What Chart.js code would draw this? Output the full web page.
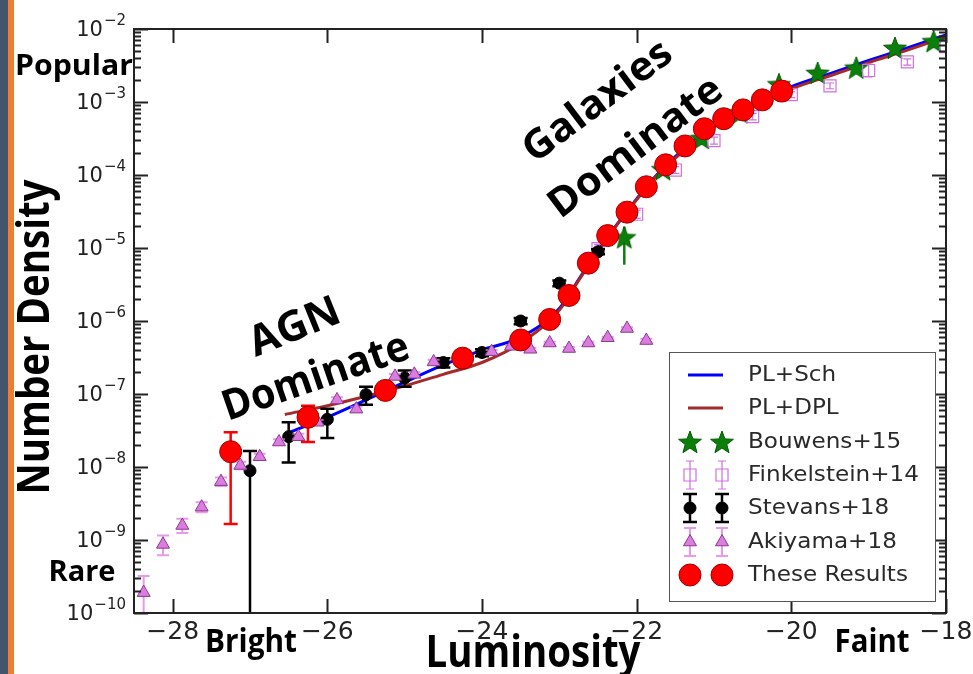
<!DOCTYPE html>
<html>
<head>
<meta charset="utf-8">
<script src="https://cdn.jsdelivr.net/npm/chart.js@4.4.1/dist/chart.umd.min.js"></script>
<style>
  html, body { margin: 0; padding: 0; background: #fff; }
  #wrap { position: relative; width: 973px; height: 674px; overflow: hidden; background: #fff; }
  #stripe1 { position: absolute; left: 0; top: 0; width: 8px; height: 674px; background: #44546a; }
  #stripe2 { position: absolute; left: 8px; top: 0; width: 6px; height: 674px; background: #ed7d31; }
  canvas { position: absolute; left: 0; top: 0; }
</style>
</head>
<body>
<div id="wrap">
  <div id="stripe1"></div><div id="stripe2"></div>
  <canvas id="lf" width="973" height="674"></canvas>
</div>
<script>
var ctx = document.getElementById('lf').getContext('2d');

// axis ticks
var xTicks = [-28, -26, -24, -22, -20, -18];
var yTickValues = [1e-10, 1e-9, 1e-8, 1e-7, 1e-6, 1e-5, 1e-4, 1e-3, 1e-2];
var yTickPowers = ['\u221210', '\u22129', '\u22128', '\u22127', '\u22126', '\u22125', '\u22124', '\u22123', '\u22122'];

// model curves
var schM = [-26.5, -26, -25.5, -25, -24.5, -24, -23.5, -23, -22.75, -22.5, -22.25, -22, -21.75, -21.5, -21, -20.5, -20, -19.5, -19, -18.5, -18];
var schPhi = [2.95e-8, 4.8e-8, 8.3e-8, 1.45e-7, 2.5e-7, 4.0e-7, 6.0e-7, 1.48e-6, 3.7e-6, 9.3e-6, 2.14e-5, 4.7e-5, 9.8e-5, 1.78e-4, 4.8e-4, 9.3e-4, 1.62e-3, 2.45e-3, 3.7e-3, 5.5e-3, 8.3e-3];
var dplM = [-26.55, -26, -25.5, -25, -24.5, -24, -23.5, -23, -22.75, -22.5, -22.25, -22, -21.75, -21.5, -21, -20.5, -20, -19.5, -19, -18.5, -18];
var dplPhi = [5.25e-8, 6.9e-8, 9.3e-8, 1.29e-7, 1.86e-7, 2.7e-7, 5.0e-7, 1.41e-6, 3.6e-6, 8.9e-6, 2.1e-5, 4.6e-5, 9.5e-5, 1.7e-4, 4.57e-4, 8.7e-4, 1.51e-3, 2.29e-3, 3.47e-3, 5.13e-3, 7.76e-3];

// Bouwens+15
var bouwensM = [-22.16, -21.66, -21.16, -20.66, -20.16, -19.66, -19.16, -18.66, -18.16];
var bouwensPhi = [1.4e-5, 1.2e-4, 3.2e-4, 7.2e-4, 1.75e-3, 2.5e-3, 2.95e-3, 5.5e-3, 6.8e-3];
var bouwensLo = [5.9e-6, 1.1e-4, 2.9e-4, 6.6e-4, 1.6e-3, 2.3e-3, 2.7e-3, 5.0e-3, 6.2e-3];
var bouwensHi = [1.95e-5, 1.3e-4, 3.5e-4, 7.8e-4, 1.9e-3, 2.7e-3, 3.2e-3, 6.0e-3, 7.4e-3];

// Finkelstein+14
var finkM = [-22.5, -22, -21.5, -21, -20.5, -20, -19.5, -19, -18.5, -18];
var finkPhi = [9.8e-6, 2.9e-5, 1.17e-4, 2.95e-4, 6.3e-4, 1.26e-3, 1.66e-3, 2.7e-3, 3.55e-3, 5.75e-3];
var finkLo = [8.5e-6, 2.55e-5, 1.05e-4, 2.65e-4, 5.7e-4, 1.15e-3, 1.52e-3, 2.2e-3, 3.2e-3, 4.9e-3];
var finkHi = [1.12e-5, 3.3e-5, 1.3e-4, 3.3e-4, 7.0e-4, 1.38e-3, 1.82e-3, 3.3e-3, 3.9e-3, 6.7e-3];

// Stevans+18
var stevansM = [-27, -26.5, -26, -25.5, -25, -24.5, -24, -23.5, -23, -22.5];
var stevansPhi = [8.9e-9, 2.6e-8, 4.5e-8, 9.8e-8, 1.66e-7, 2.7e-7, 3.7e-7, 1.0e-6, 3.3e-6, 8.9e-6];
var stevansLo = [1e-12, 1.15e-8, 2.5e-8, 7.1e-8, 1.26e-7, 2.3e-7, 3.3e-7, 9.0e-7, 3.0e-6, 8.2e-6];
var stevansHi = [1.66e-8, 4.1e-8, 6.3e-8, 1.26e-7, 2.1e-7, 3.1e-7, 4.1e-7, 1.1e-6, 3.6e-6, 9.6e-6];

// Akiyama+18
var akiyamaM = [-28.375, -28.125, -27.875, -27.625, -27.375, -27.125, -26.875, -26.625, -26.375, -26.125, -25.875, -25.625, -25.125, -24.875, -24.625, -23.875, -23.625, -23.375, -23.125, -22.875, -22.625, -22.375, -22.125, -21.875];
var akiyamaPhi = [1.9e-10, 8.7e-10, 1.58e-9, 2.82e-9, 6.3e-9, 1.05e-8, 1.38e-8, 2.2e-8, 2.6e-8, 4.1e-8, 8.3e-8, 6.2e-8, 1.74e-7, 1.86e-7, 2.75e-7, 3.8e-7, 4.5e-7, 4.1e-7, 5.0e-7, 4.2e-7, 5.0e-7, 5.9e-7, 7.9e-7, 5.4e-7];
var akiyamaLo = [1e-12, 6.2e-10, 1.25e-9, 2.4e-9, 5.5e-9, 9.3e-9, 1.25e-8, 2.0e-8, 2.4e-8, 3.8e-8, 7.7e-8, 5.7e-8, 1.6e-7, 1.7e-7, 2.55e-7, 3.6e-7, 4.3e-7, 3.9e-7, 4.8e-7, 4.0e-7, 4.8e-7, 5.7e-7, 7.6e-7, 5.1e-7];
var akiyamaHi = [3.2e-10, 1.15e-9, 1.95e-9, 3.3e-9, 7.2e-9, 1.18e-8, 1.52e-8, 2.4e-8, 2.85e-8, 4.4e-8, 9.0e-8, 6.7e-8, 1.88e-7, 2.0e-7, 2.95e-7, 4.0e-7, 4.7e-7, 4.3e-7, 5.2e-7, 4.4e-7, 5.2e-7, 6.1e-7, 8.2e-7, 5.7e-7];

// These Results
var resultsM = [-27.25, -26.25, -25.25, -24.25, -23.5, -23.125, -22.875, -22.625, -22.375, -22.125, -21.875, -21.625, -21.375, -21.125, -20.875, -20.625, -20.375, -20.125];
var resultsPhi = [1.62e-8, 4.8e-8, 1.12e-7, 3.1e-7, 5.5e-7, 1.05e-6, 2.24e-6, 6.2e-6, 1.48e-5, 3.1e-5, 6.9e-5, 1.38e-4, 2.5e-4, 4.3e-4, 5.9e-4, 7.8e-4, 1.07e-3, 1.41e-3];
var resultsLo = [1.66e-9, 2.2e-8, 9.5e-8, 2.8e-7, null, null, null, null, null, null, null, null, null, null, null, null, null, null];
var resultsHi = [3.0e-8, 6.9e-8, 1.3e-7, 3.4e-7, null, null, null, null, null, null, null, null, null, null, null, null, null, null];

function points(xs, ys, lo, hi) {
    var out = [];
    for (var i = 0; i < xs.length; i++) {
        out.push({x: xs[i], y: ys[i], lo: lo ? lo[i] : null, hi: hi ? hi[i] : null});
    }
    return out;
}

function starPath(g, cx, cy, r) {
    g.beginPath();
    for (var k = 0; k < 10; k++) {
        var rr = k % 2 === 0 ? r : r * 0.42;
        var a = -Math.PI / 2 + k * Math.PI / 5;
        var px = cx + rr * Math.cos(a), py = cy + rr * Math.sin(a);
        if (k === 0) g.moveTo(px, py); else g.lineTo(px, py);
    }
    g.closePath();
}

function makeStar(r) {
    var c = document.createElement('canvas');
    var s = Math.ceil(r * 2 + 4);
    c.width = s; c.height = s;
    var g = c.getContext('2d');
    starPath(g, s / 2, s / 2 + 1, r);
    g.fillStyle = '#0a800a';
    g.fill();
    g.strokeStyle = '#005a00';
    g.lineWidth = 1;
    g.stroke();
    return c;
}
var starImg = makeStar(12);

var errorBars = {
    id: 'errorBars',
    beforeDatasetDraw: function(chart, args) {
        var ds = chart.data.datasets[args.index];
        if (!ds.errColor) return;
        var xs = chart.scales.x, ys = chart.scales.y, a = chart.chartArea;
        var c = chart.ctx;
        c.save();
        c.beginPath();
        c.rect(a.left, a.top, a.right - a.left, a.bottom - a.top);
        c.clip();
        c.strokeStyle = ds.errColor;
        c.lineWidth = ds.errWidth;
        ds.data.forEach(function(p) {
            if (p.lo == null) return;
            var px = xs.getPixelForValue(p.x);
            var y1 = ys.getPixelForValue(p.lo), y2 = ys.getPixelForValue(p.hi);
            c.beginPath();
            c.moveTo(px, y1); c.lineTo(px, y2);
            if (ds.errCap) {
                c.moveTo(px - ds.errCap, y2); c.lineTo(px + ds.errCap, y2);
                c.moveTo(px - ds.errCap, y1); c.lineTo(px + ds.errCap, y1);
            }
            c.stroke();
        });
        c.restore();
    }
};

var frame = {
    id: 'frame',
    afterDatasetsDraw: function(chart) {
        var c = chart.ctx, a = chart.chartArea;
        var xs = chart.scales.x, ys = chart.scales.y;
        c.save();
        c.strokeStyle = '#222';
        c.lineWidth = 2;
        c.strokeRect(a.left, a.top, a.right - a.left, a.bottom - a.top);
        c.lineWidth = 2;
        c.beginPath();
        xTicks.forEach(function(v) {
            var px = Math.round(xs.getPixelForValue(v)) + 0.5;
            c.moveTo(px, a.bottom); c.lineTo(px, a.bottom - 14);
            c.moveTo(px, a.top); c.lineTo(px, a.top + 14);
        });
        yTickValues.forEach(function(v, i) {
            var py = Math.round(ys.getPixelForValue(v)) + 0.5;
            c.moveTo(a.left, py); c.lineTo(a.left + 14, py);
            c.moveTo(a.right, py); c.lineTo(a.right - 14, py);
            if (i < yTickValues.length - 1) {
                for (var m = 2; m <= 9; m++) {
                    var q = Math.round(ys.getPixelForValue(v * m)) + 0.5;
                    c.moveTo(a.left, q); c.lineTo(a.left + 7, q);
                    c.moveTo(a.right, q); c.lineTo(a.right - 7, q);
                }
            }
        });
        c.stroke();
        c.restore();
    }
};

function fitText(c, txt, cx, cy, angle, size, width) {
    c.save();
    c.translate(cx, cy);
    c.rotate(angle * Math.PI / 180);
    c.font = 'bold ' + size + 'px "Open Sans"';
    var w = c.measureText(txt).width;
    c.scale(width / w, 1);
    c.textAlign = 'center';
    c.textBaseline = 'middle';
    c.fillStyle = '#000';
    c.fillText(txt, 0, 0);
    c.restore();
}

function legendMarker(c, ds, x, y) {
    if (ds.errColor && ds.legendErr) {
        c.save();
        c.strokeStyle = ds.errColor;
        c.lineWidth = ds.errWidth;
        c.beginPath();
        c.moveTo(x, y - 14); c.lineTo(x, y + 14);
        if (ds.errCap) {
            c.moveTo(x - ds.errCap, y - 14); c.lineTo(x + ds.errCap, y - 14);
            c.moveTo(x - ds.errCap, y + 14); c.lineTo(x + ds.errCap, y + 14);
        }
        c.stroke();
        c.restore();
    }
    c.save();
    c.fillStyle = ds.backgroundColor;
    c.strokeStyle = ds.borderColor;
    c.lineWidth = ds.borderWidth || 0;
    Chart.helpers.drawPoint(c, {pointStyle: ds.pointStyle, radius: ds.pointRadius, rotation: 0, borderWidth: ds.borderWidth || 0}, x, y);
    c.restore();
}

var labels = {
    id: 'labels',
    afterDraw: function(chart) {
        var c = chart.ctx, a = chart.chartArea;
        var xs = chart.scales.x, ys = chart.scales.y;
        c.save();
        c.fillStyle = '#222';
        // y tick labels with superscripts
        yTickValues.forEach(function(v, i) {
            var py = ys.getPixelForValue(v);
            c.font = '15px "DejaVu Sans"';
            c.textAlign = 'right';
            c.textBaseline = 'alphabetic';
            var sw = c.measureText(yTickPowers[i]).width;
            c.fillText(yTickPowers[i], 126, py - 4);
            c.font = '21px "DejaVu Sans"';
            c.fillText('10', 126 - sw - 1, py + 7);
        });
        // x tick labels
        c.font = '25px "DejaVu Sans"';
        c.textAlign = 'center';
        xTicks.forEach(function(v) {
            c.fillText('\u2212' + Math.abs(v), xs.getPixelForValue(v), 639);
        });
        c.restore();

        // legend
        var lx = 669, ly = 352, lw = 266, lh = 249;
        c.save();
        c.fillStyle = '#fff';
        c.fillRect(lx, ly, lw, lh);
        c.strokeStyle = '#555';
        c.lineWidth = 1;
        c.strokeRect(lx + 0.5, ly + 0.5, lw, lh);
        var rows = [375, 408, 442, 475, 508, 542, 575];
        chart.data.datasets.forEach(function(ds, i) {
            var ry = rows[i];
            if (ds.showLine) {
                c.strokeStyle = ds.borderColor;
                c.lineWidth = ds.borderWidth;
                c.beginPath();
                c.moveTo(688, ry); c.lineTo(723, ry);
                c.stroke();
            } else {
                legendMarker(c, ds, 690, ry);
                legendMarker(c, ds, 722, ry);
            }
            c.save();
            c.translate(748, ry + 1);
            c.scale(1.1, 1);
            c.fillStyle = '#2a2a2a';
            c.font = '21px "DejaVu Sans"';
            c.textAlign = 'left';
            c.textBaseline = 'middle';
            c.fillText(ds.label, 0, 0);
            c.restore();
        });
        c.restore();

        // annotations
        fitText(c, 'Popular', 74, 67, 0, 28, 118);
        fitText(c, 'Rare', 82, 573, 0, 28, 67);
        fitText(c, 'Bright', 251, 643, 0, 32, 92);
        fitText(c, 'Faint', 872, 643, 0, 32, 75);
        fitText(c, 'Luminosity', 533, 654, 0, 44, 215);
        fitText(c, 'Number Density', 36, 337, -90, 44, 315);
        fitText(c, 'AGN', 295, 328, -22, 42, 95);
        fitText(c, 'Dominate', 316, 378, -19, 42, 195);
        fitText(c, 'Galaxies', 598, 102, -37, 40, 176);
        fitText(c, 'Dominate', 636, 148, -37, 40, 207);
    }
};

var data = {
    datasets: [
        {
            label: 'PL+Sch',
            data: points(schM, schPhi),
            showLine: true,
            borderColor: '#0000ff',
            borderWidth: 3,
            pointRadius: 0,
            cubicInterpolationMode: 'monotone',
            order: 6
        },
        {
            label: 'PL+DPL',
            data: points(dplM, dplPhi),
            showLine: true,
            borderColor: '#a52a2a',
            borderWidth: 3,
            pointRadius: 0,
            cubicInterpolationMode: 'monotone',
            order: 5
        },
        {
            label: 'Bouwens+15',
            data: points(bouwensM, bouwensPhi, bouwensLo, bouwensHi),
            pointStyle: starImg,
            pointRadius: 12,
            backgroundColor: '#0a800a',
            borderColor: '#005a00',
            borderWidth: 0,
            errColor: '#0a800a', errWidth: 2.5, errCap: 0,
            order: 4
        },
        {
            label: 'Finkelstein+14',
            data: points(finkM, finkPhi, finkLo, finkHi),
            pointStyle: 'rect',
            pointRadius: 8.5,
            backgroundColor: 'rgba(255,255,255,0)',
            borderColor: '#d070e0',
            borderWidth: 1.2,
            errColor: '#d070e0', errWidth: 1.2, errCap: 4, legendErr: true,
            order: 3
        },
        {
            label: 'Stevans+18',
            data: points(stevansM, stevansPhi, stevansLo, stevansHi),
            pointStyle: 'circle',
            pointRadius: 6,
            backgroundColor: '#000',
            borderColor: '#000',
            borderWidth: 1,
            errColor: '#000', errWidth: 2.5, errCap: 7, legendErr: true,
            order: 2
        },
        {
            label: 'Akiyama+18',
            data: points(akiyamaM, akiyamaPhi, akiyamaLo, akiyamaHi),
            pointStyle: 'triangle',
            pointRadius: 7.5,
            backgroundColor: '#da7ce0',
            borderColor: '#8b3a8b',
            borderWidth: 1,
            errColor: 'rgba(222,120,226,0.75)', errWidth: 2, errCap: 6, legendErr: true,
            order: 1
        },
        {
            label: 'These Results',
            data: points(resultsM, resultsPhi, resultsLo, resultsHi),
            pointStyle: 'circle',
            pointRadius: 11,
            backgroundColor: '#ff0000',
            borderColor: '#a00000',
            borderWidth: 1,
            errColor: '#ff0000', errWidth: 2.5, errCap: 7,
            order: 0
        }
    ]
};

var lfChart = new Chart(ctx, {
    type: 'scatter',
    data: data,
    plugins: [errorBars, frame, labels],
    options: {
        responsive: false,
        animation: false,
        events: [],
        layout: { padding: { top: 29, right: 27, left: 0, bottom: 0 } },
        plugins: { legend: { display: false }, tooltip: { enabled: false } },
        scales: {
            x: {
                type: 'linear', min: -28.5, max: -18,
                grid: { display: false }, border: { display: false },
                ticks: { display: false },
                afterFit: function(s) { s.height = 61; }
            },
            y: {
                type: 'logarithmic', min: 1e-10, max: 1e-2,
                grid: { display: false }, border: { display: false },
                ticks: { display: false },
                afterFit: function(s) { s.width = 134; }
            }
        }
    }
});
</script>
</body>
</html>
